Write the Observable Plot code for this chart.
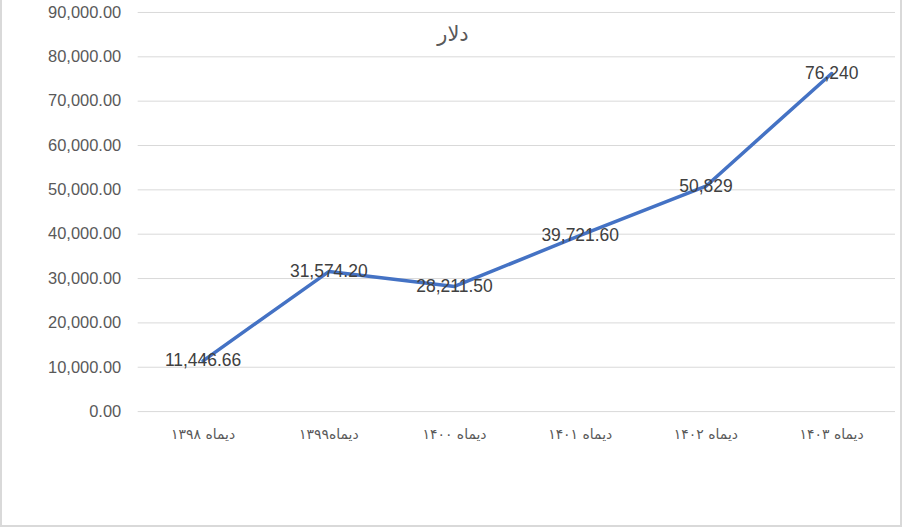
<!DOCTYPE html>
<html>
<head>
<meta charset="utf-8">
<script src="https://cdn.jsdelivr.net/npm/d3@7"></script>
<script src="https://cdn.jsdelivr.net/npm/@observablehq/plot@0.6"></script>
<style>
  html, body { margin: 0; padding: 0; background: #fff; }
  #wrap { position: relative; width: 902px; height: 527px; box-sizing: border-box; border: 2px solid #d9d9d9; border-top: none; overflow: hidden; }
  #chart { position: absolute; left: -2px; top: 0; }
  #title { position: absolute; left: 0; top: 22px; width: 902px; text-align: center; font-family: "DejaVu Sans", sans-serif; font-size: 21px; color: #595959; direction: rtl; }
</style>
</head>
<body>
<div id="wrap">
  <div id="chart"></div>
  <div id="title">دلار</div>
</div>
<script>
const categories = ["دیماه ۱۳۹۸", "دیماه۱۳۹۹", "دیماه ۱۴۰۰", "دیماه ۱۴۰۱", "دیماه ۱۴۰۲", "دیماه ۱۴۰۳"];
const values = [11446.66, 31574.20, 28211.50, 39721.60, 50829, 76240];
const valueLabels = ["11,446.66", "31,574.20", "28,211.50", "39,721.60", "50,829", "76,240"];
const yTicks = [0, 10000, 20000, 30000, 40000, 50000, 60000, 70000, 80000, 90000];

const data = categories.map((c, i) => ({cat: c, value: values[i], label: valueLabels[i]}));
const fmt = d3.format(",.2f");

const plot = Plot.plot({
  width: 902,
  height: 527,
  marginTop: 12,
  marginBottom: 115,
  marginLeft: 138,
  marginRight: 5,
  style: {background: "transparent", fontFamily: "'Liberation Sans', sans-serif"},
  x: {type: "point", domain: categories, padding: 0.5, label: null},
  y: {domain: [0, 90000], label: null},
  marks: [
    Plot.gridY(yTicks, {stroke: "#d9d9d9", strokeOpacity: 1, strokeWidth: 1}),
    Plot.axisY(yTicks, {tickSize: 0, tickPadding: 17, tickFormat: fmt, fontSize: 16.5, fill: "#595959", label: null}),
    Plot.axisX(categories, {tickSize: 0, tickPadding: 18, fontSize: 14, fill: "#595959", fontFamily: "'DejaVu Sans', sans-serif", label: null}),
    Plot.line(data, {x: "cat", y: "value", stroke: "#4472C4", strokeWidth: 3.5, strokeLinejoin: "round", strokeLinecap: "round"}),
    Plot.text(data, {x: "cat", y: "value", text: "label", fill: "#404040", fontSize: 17.5})
  ]
});
document.getElementById("chart").appendChild(plot);
</script>
</body>
</html>
